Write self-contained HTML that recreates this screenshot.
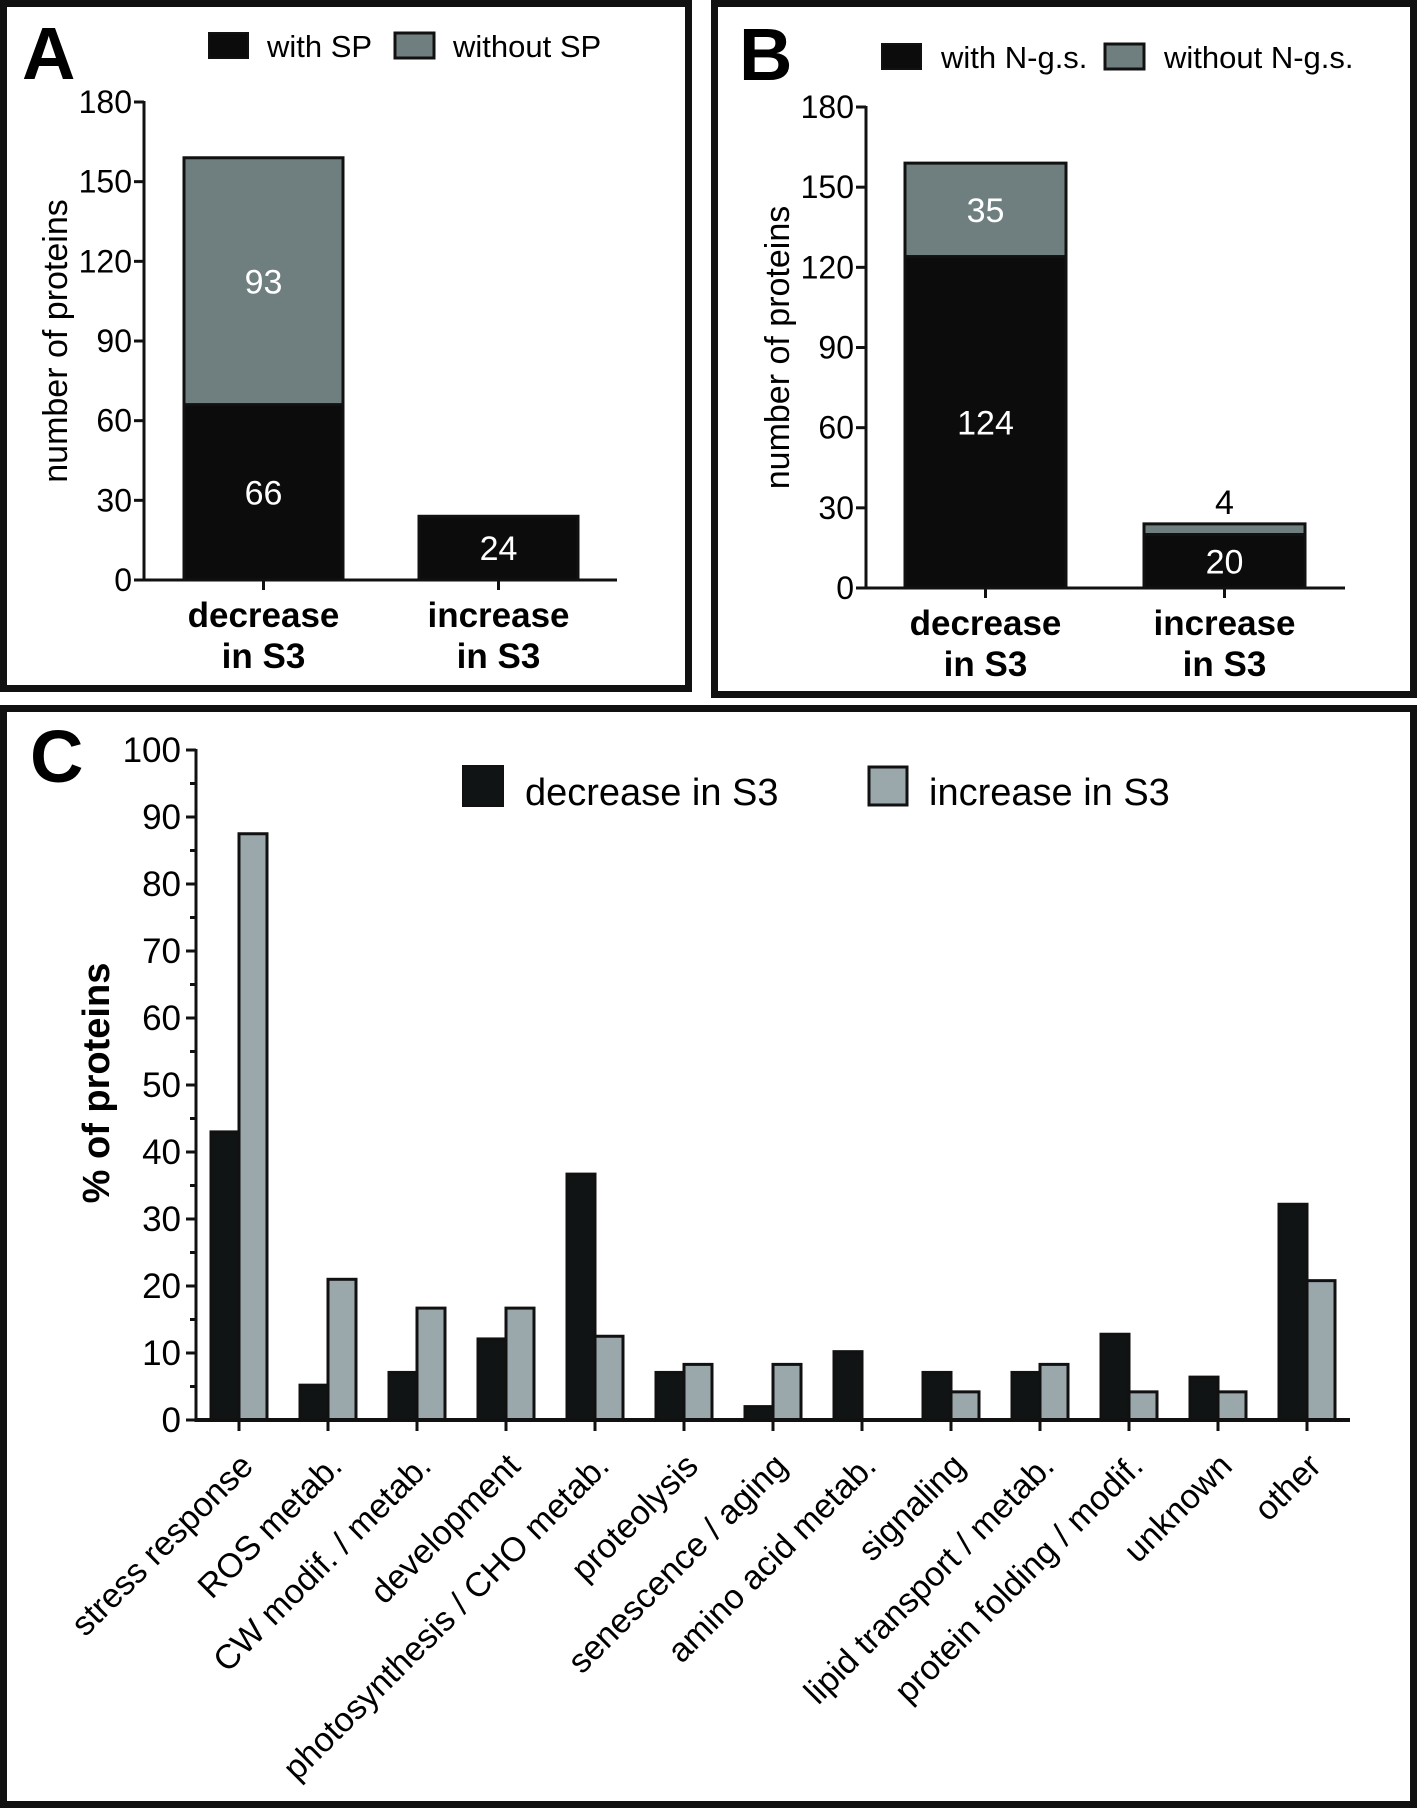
<!DOCTYPE html>
<html><head><meta charset="utf-8"><style>
html,body{margin:0;padding:0;background:#fff;}
svg{display:block;font-family:"Liberation Sans",Arial,sans-serif;}
</style></head><body>
<svg id="fig" width="1417" height="1808" viewBox="0 0 1417 1808"></svg>
<script>
// Panel A data
const catsAB = ["decrease", "increase"];
const aWith = [66, 24];
const aWithout = [93, 0];
// Panel B data
const bWith = [124, 20];
const bWithout = [35, 4];
const abTicks = [0, 30, 60, 90, 120, 150, 180];
// Panel C data
const cCats = ["stress response","ROS metab.","CW modif. / metab.","development","photosynthesis / CHO metab.","proteolysis","senescence / aging","amino acid metab.","signaling","lipid transport / metab.","protein folding / modif.","unknown","other"];
const cDecrease = [43, 5.2, 7.1, 12.1, 36.7, 7.1, 2, 10.2, 7.1, 7.1, 12.8, 6.4, 32.2];
const cIncrease = [87.5, 21, 16.7, 16.7, 12.5, 8.3, 8.3, 0, 4.2, 8.3, 4.2, 4.2, 20.8];
const cTicks = [0,10,20,30,40,50,60,70,80,90,100];

const NS = "http://www.w3.org/2000/svg";
const svg = document.getElementById("fig");
function mk(tag, attrs, parent, text){
  const e = document.createElementNS(NS, tag);
  for (const k in attrs) e.setAttribute(k, attrs[k]);
  if (text !== undefined) e.textContent = text;
  (parent || svg).appendChild(e);
  return e;
}

let e;
e = mk("rect",{x:3.5,y:3.5,width:685,height:685,fill:"none",stroke:"#111",'stroke-width':7});
 
e = mk("rect",{x:714.5,y:3.5,width:699,height:691,fill:"none",stroke:"#111",'stroke-width':7});
 
e = mk("rect",{x:3.5,y:708.5,width:1410,height:1096,fill:"none",stroke:"#111",'stroke-width':7});
 

function stackPanel(cfg){
  const g = mk("g",{});
  
  
  const y = v => cfg.y0 - (cfg.y0 - cfg.y180) * v / 180;
  e = mk("text",{x:cfg.letterX,y:cfg.letterY,'font-size':74,'font-weight':'bold',fill:'#000'},g,cfg.letter);
   
  e = mk("rect",{x:cfg.leg[0],y:cfg.legY,width:39,height:25,fill:'#0c0c0c',stroke:'#111','stroke-width':2},g);
   
  e = mk("text",{x:cfg.leg[1],y:cfg.legY+24,'font-size':31,fill:'#000'},g,cfg.legText[0]);
   
  e = mk("rect",{x:cfg.leg[2],y:cfg.legY,width:39,height:25,fill:'#6f7f7f',stroke:'#111','stroke-width':3},g);
   
  e = mk("text",{x:cfg.leg[3],y:cfg.legY+24,'font-size':31,fill:'#000'},g,cfg.legText[1]);
   
  for (let i=0;i<2;i++){
    const x0 = cfg.barX[i], w = cfg.barW;
    const yw = y(cfg.with[i]), yt = y(cfg.with[i]+cfg.without[i]);
    if (cfg.without[i] > 0){
      e = mk("rect",{x:x0,y:yt,width:w,height:yw-yt,fill:'#6f7f7f',stroke:'#111','stroke-width':3},g);
       
    }
    e = mk("rect",{x:x0,y:yw,width:w,height:cfg.y0-yw,fill:'#0c0c0c',stroke:'#111','stroke-width':3},g);
     
    const cx = x0 + w/2;
    e = mk("text",{x:cx,y:(yw+cfg.y0)/2+12,'font-size':34,fill:'#fff','text-anchor':'middle'},g,String(cfg.with[i]));
     
    if (cfg.without[i] > 0){
      const small = (yw - yt) < 30;
      const ly = small ? yt - 10 : (yt+yw)/2+12;
      e = mk("text",{x:cx,y:ly,'font-size':34,fill:small?'#000':'#fff','text-anchor':'middle'},g,String(cfg.without[i]));
       
    }
  }
  e = mk("line",{x1:cfg.ax,y1:cfg.y180-1,x2:cfg.ax,y2:cfg.y0+1.5,stroke:'#111','stroke-width':3},g);
   
  e = mk("line",{x1:cfg.ax-1.5,y1:cfg.y0,x2:cfg.axEnd,y2:cfg.y0,stroke:'#111','stroke-width':3},g);
   
  abTicks.forEach(t=>{
    const ty = y(t);
    e = mk("line",{x1:cfg.ax-10,y1:ty,x2:cfg.ax,y2:ty,stroke:'#111','stroke-width':3},g);
     
    e = mk("text",{x:cfg.ax-12,y:ty+11,'font-size':32,'text-anchor':'end',fill:'#000'},g,String(t));
     
  });
  for (let i=0;i<2;i++){
    const cx = cfg.barX[i] + cfg.barW/2;
    e = mk("line",{x1:cx,y1:cfg.y0,x2:cx,y2:cfg.y0+10,stroke:'#111','stroke-width':3},g);
     
    e = mk("text",{x:cx,y:cfg.y0+47,'font-size':35,'font-weight':'bold','text-anchor':'middle',fill:'#000'},g,catsAB[i]);
     
    e = mk("text",{x:cx,y:cfg.y0+88,'font-size':35,'font-weight':'bold','text-anchor':'middle',fill:'#000'},g,"in S3");
     
  }
  const ty = (cfg.y0+cfg.y180)/2;
  e = mk("text",{x:0,y:0,'font-size':34,'text-anchor':'middle',fill:'#000',transform:`translate(${cfg.titleX},${ty}) rotate(-90)`},g,"number of proteins");
   
}

stackPanel({name:'panel-a', letter:'A', letterX:22, letterY:79, y0:580, y180:102, ax:144, axEnd:617,
  barX:[184,419], barW:159, with:aWith, without:aWithout, leg:[209,267,395,453], legY:33,
  legText:['with SP','without SP'], titleX:67});
stackPanel({name:'panel-b', letter:'B', letterX:739, letterY:80, y0:588, y180:107, ax:866, axEnd:1345,
  barX:[905,1144], barW:161, with:bWith, without:bWithout, leg:[882,941,1105,1164], legY:44,
  legText:['with N-g.s.','without N-g.s.'], titleX:789});

(function(){
  const g = mk("g",{});
  
  
  const y0 = 1420, y100 = 750, ax = 196, axEnd = 1350, x0 = 239, step = 89, bw = 28;
  const y = v => y0 - (y0 - y100) * v / 100;
  const xc = i => x0 + step * i;
  e = mk("text",{x:30,y:782,'font-size':74,'font-weight':'bold',fill:'#000'},g,"C");
   
  e = mk("rect",{x:463,y:766,width:40,height:40,fill:'#111414',stroke:'#111','stroke-width':2},g);
   
  e = mk("text",{x:525,y:805,'font-size':38,fill:'#000'},g,"decrease in S3");
   
  e = mk("rect",{x:869,y:767,width:38,height:38,fill:'#9aa8ac',stroke:'#111','stroke-width':3},g);
   
  e = mk("text",{x:929,y:805,'font-size':38,fill:'#000'},g,"increase in S3");
   
  cCats.forEach((c,i)=>{
    const cx = xc(i);
    const yd = y(cDecrease[i]);
    e = mk("rect",{x:cx-bw,y:yd,width:bw,height:y0-yd,fill:'#111414',stroke:'#111','stroke-width':3},g);
     
    if (cIncrease[i] > 0){
      const yi = y(cIncrease[i]);
      e = mk("rect",{x:cx,y:yi,width:bw,height:y0-yi,fill:'#9aa8ac',stroke:'#111','stroke-width':3},g);
       
    }
    e = mk("line",{x1:cx,y1:y0,x2:cx,y2:y0+11,stroke:'#111','stroke-width':3},g);
     
    e = mk("text",{x:0,y:0,'font-size':34,'text-anchor':'end',fill:'#000',transform:`translate(${cx+16},${y0+48}) rotate(-45)`},g,c);
     
  });
  e = mk("line",{x1:ax,y1:y100-1,x2:ax,y2:y0+1.5,stroke:'#111','stroke-width':3},g);
   
  e = mk("line",{x1:ax-1.5,y1:y0,x2:axEnd,y2:y0,stroke:'#111','stroke-width':4},g);
   
  cTicks.forEach(t=>{
    const ty = y(t);
    e = mk("line",{x1:ax-10,y1:ty,x2:ax,y2:ty,stroke:'#111','stroke-width':3},g);
     
    e = mk("text",{x:ax-15,y:ty+12,'font-size':35,'text-anchor':'end',fill:'#000'},g,String(t));
     
    if (t < 100){
      const my = y(t+5);
      e = mk("line",{x1:ax-6,y1:my,x2:ax,y2:my,stroke:'#111','stroke-width':3},g);
       
    }
  });
  e = mk("text",{x:0,y:0,'font-size':38,'font-weight':'bold','text-anchor':'middle',fill:'#000',transform:`translate(109,1083) rotate(-90)`},g,"% of proteins");
   
})();
</script>
</body></html>
